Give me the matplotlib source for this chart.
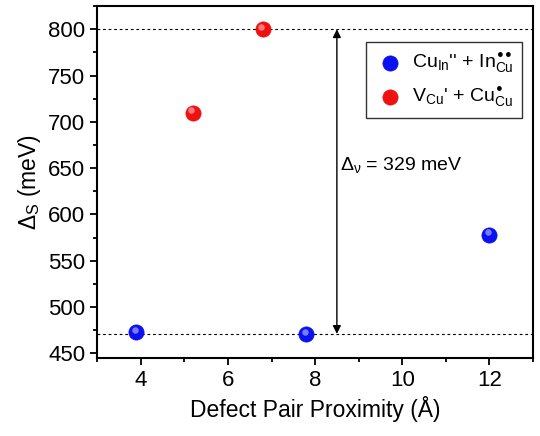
import numpy as np
import matplotlib
matplotlib.use('Agg')
import matplotlib.pyplot as plt
from matplotlib.ticker import MultipleLocator

matplotlib.rcParams['font.family'] = 'Liberation Sans'
matplotlib.rcParams['mathtext.fontset'] = 'custom'
matplotlib.rcParams['mathtext.rm'] = 'Liberation Sans'
matplotlib.rcParams['mathtext.it'] = 'Liberation Sans:italic'
matplotlib.rcParams['mathtext.sf'] = 'Liberation Sans'

# data
blue_x = [3.9, 7.8, 12.0]
blue_y = [473, 471, 578]
red_x = [5.2, 6.8]
red_y = [710, 800]
level_hi = 800
level_lo = 471
gap_label = r'$\Delta_{\mathrm{ν}}$ = 329 meV'

blue_label = r"Cu$_{\mathrm{In}}$'' + In$_{\mathrm{Cu}}^{\mathbf{••}}$"
red_label = r"V$_{\mathrm{Cu}}$' + Cu$_{\mathrm{Cu}}^{\mathbf{•}}$"

fig = plt.figure(figsize=(5.4, 4.36), dpi=100)
ax = fig.add_axes([0.18, 0.179, 0.807, 0.807])


def ball(x, y, col, label):
    # shaded sphere look: base disc plus small highlight
    ax.scatter(x, y, s=120, color=col, edgecolors=col, linewidths=0.5,
               zorder=3, label=label)
    ax.scatter(np.array(x) - 0.04, np.array(y) + 2.5, s=22,
               color='white', alpha=0.45, linewidths=0, zorder=4)


ball(blue_x, blue_y, '#0a10f0', blue_label)
ball(red_x, red_y, '#f01010', red_label)

ax.axhline(level_hi, color='k', ls=(0, (2.5, 2.5)), lw=0.8, zorder=1)
ax.axhline(level_lo, color='k', ls=(0, (2.5, 2.5)), lw=0.8, zorder=1)
ax.annotate('', xy=(8.5, level_lo), xytext=(8.5, level_hi),
            arrowprops=dict(arrowstyle='<|-|>', color='k', lw=1.0,
                            mutation_scale=12, shrinkA=0, shrinkB=0))
ax.text(8.57, 653, gap_label, fontsize=14, va='center', ha='left')

ax.set_xlim(3, 13)
ax.set_ylim(445, 825)
ax.xaxis.set_major_locator(MultipleLocator(2))
ax.xaxis.set_minor_locator(MultipleLocator(1))
ax.yaxis.set_major_locator(MultipleLocator(50))
ax.yaxis.set_minor_locator(MultipleLocator(25))
ax.tick_params(which='both', direction='out', width=1.3, labelsize=16,
               top=False, right=False)
ax.tick_params(which='major', length=5)
ax.tick_params(which='minor', length=3)
for s in ax.spines.values():
    s.set_linewidth(1.5)

ax.set_xlabel(u'Defect Pair Proximity (Å)', fontsize=16.5)
ax.set_ylabel(r'$\Delta_{\mathrm{S}}$ (meV)', fontsize=16.5, labelpad=4)

leg = ax.legend(loc='upper right', bbox_to_anchor=(0.998, 0.925),
                fontsize=14, frameon=True, fancybox=False, edgecolor='k',
                handlelength=1.5, handletextpad=0.4, borderpad=0.45,
                labelspacing=0.5, scatterpoints=1)
leg.get_frame().set_linewidth(1.0)

plt.savefig('out.png', dpi=100)
